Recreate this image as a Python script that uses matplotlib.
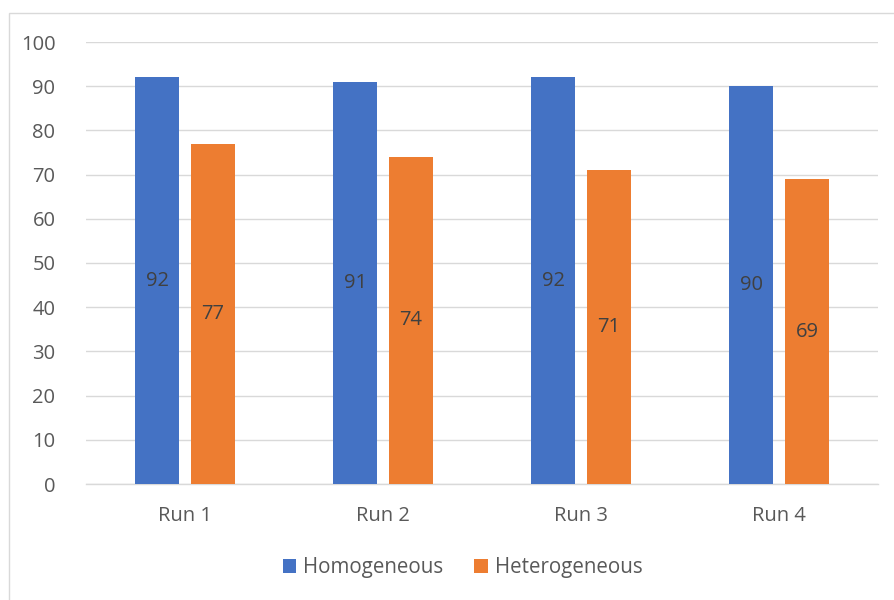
import matplotlib.pyplot as plt
from matplotlib.patches import Rectangle
import numpy as np

runs = ['Run 1', 'Run 2', 'Run 3', 'Run 4']
homogeneous = [92, 91, 92, 90]
heterogeneous = [77, 74, 71, 69]

blue = '#4472C4'
orange = '#ED7D31'
txt = '#595959'

plt.rcParams['font.family'] = ['Open Sans', 'DejaVu Sans']

W, H = 895, 600
fig = plt.figure(figsize=(W / 100, H / 100), dpi=100)

# chart border (runs off the right and bottom edges)
fig.patches.append(Rectangle((9.5 / W, -0.1), 1.2, 1 - 13.5 / H + 0.1,
                             transform=fig.transFigure, fill=False,
                             edgecolor='#D9D9D9', linewidth=1))

ax = fig.add_axes([86 / W, 1 - 484 / H, (878 - 86) / W, (484 - 42) / H])

x = np.arange(len(runs))
w = 0.222
gap = 0.06
off = (w + gap) / 2
b1 = ax.bar(x - off, homogeneous, w, color=blue, label='Homogeneous', zorder=3)
b2 = ax.bar(x + off, heterogeneous, w, color=orange, label='Heterogeneous', zorder=3)

for bars in (b1, b2):
    for r in bars:
        ax.text(r.get_x() + r.get_width() / 2, r.get_height() / 2,
                f'{r.get_height():.0f}', ha='center', va='center',
                fontsize=14.5, color='#404040', zorder=4)

ax.set_xlim(-0.5, len(runs) - 0.5)
ax.set_ylim(0, 100)
ax.set_yticks(range(0, 101, 10))
ax.set_xticks(x)
ax.set_xticklabels(runs)
ax.yaxis.grid(True, color='#D9D9D9', linewidth=1, zorder=0)
for s in ['top', 'right', 'left']:
    ax.spines[s].set_visible(False)
ax.spines['bottom'].set_color('#D9D9D9')
ax.spines['bottom'].set_linewidth(1)
ax.tick_params(axis='both', length=0, colors=txt, labelsize=14.5)
ax.tick_params(axis='y', pad=22)
ax.tick_params(axis='x', pad=16)

fig.legend(handles=[b1, b2], loc='center', bbox_to_anchor=(0.517, 1 - 568 / H),
           ncol=2, frameon=False, fontsize=14.8, labelcolor=txt,
           handlelength=0.65, handleheight=0.65, handletextpad=0.35, columnspacing=1.5)

fig.savefig('out.png', dpi=100)
